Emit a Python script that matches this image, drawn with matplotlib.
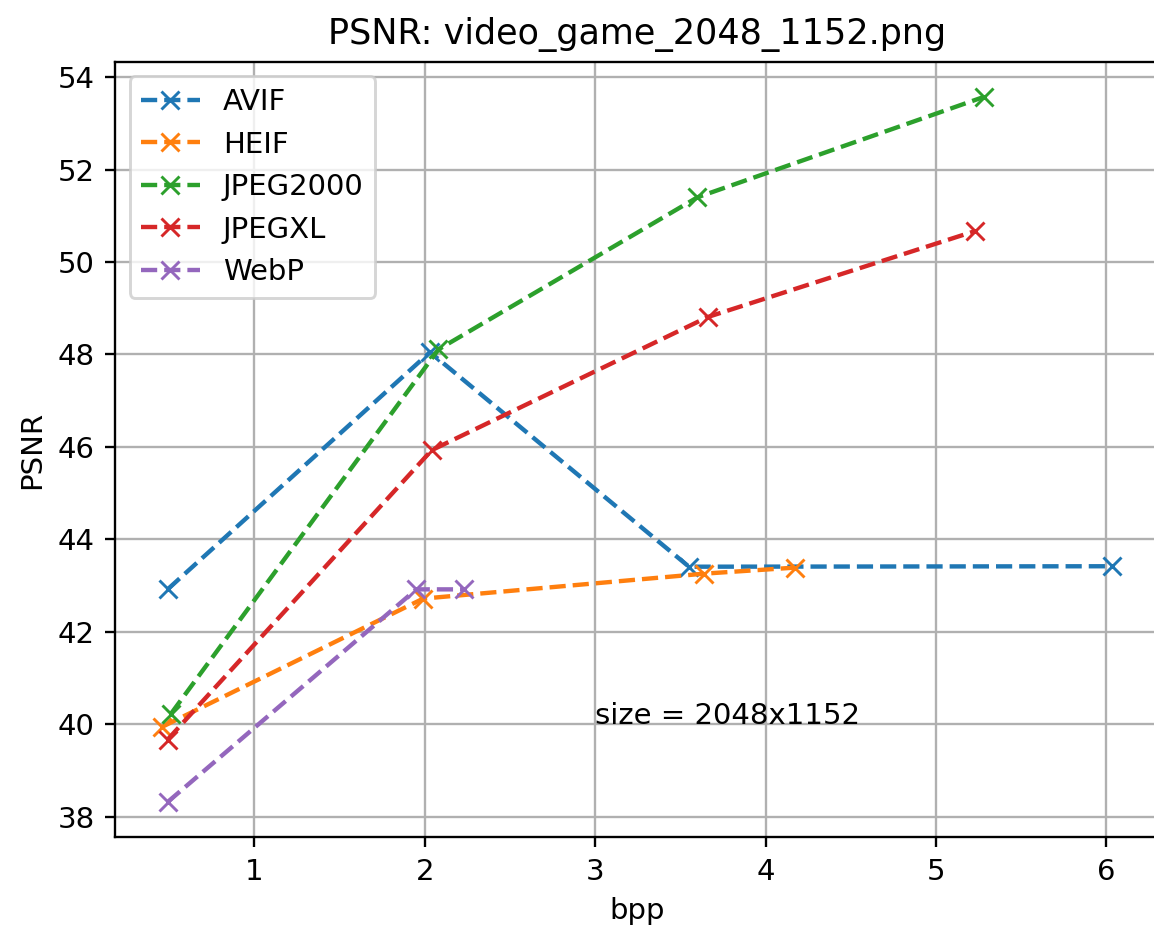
import numpy as np
import matplotlib
matplotlib.use("Agg")
import matplotlib.pyplot as plt

# bpp / PSNR
avif_bpp = [0.49, 2.03, 3.55, 6.03]
avif_psnr = [42.92, 48.05, 43.41, 43.42]

heif_bpp = [0.46, 1.99, 3.64, 4.17]
heif_psnr = [39.95, 42.72, 43.26, 43.39]

jp2_bpp = [0.51, 2.08, 3.60, 5.28]
jp2_psnr = [40.23, 48.11, 51.40, 53.57]

jxl_bpp = [0.49, 2.04, 3.66, 5.23]
jxl_psnr = [39.67, 45.93, 48.81, 50.67]

webp_bpp = [0.49, 1.95, 2.23]
webp_psnr = [38.32, 42.92, 42.92]

DPI = 210
W, H = 1154, 932
fig = plt.figure(figsize=(W / DPI, H / DPI), dpi=DPI)
# axes run slightly past the right edge, as in the reference crop
ax = fig.add_axes([115 / W, 1 - 837.3 / H, (1159 - 115) / W, (837.3 - 61.7) / H])

ax.plot(avif_bpp, avif_psnr, 'x--', label='AVIF')
ax.plot(heif_bpp, heif_psnr, 'x--', label='HEIF')
ax.plot(jp2_bpp, jp2_psnr, 'x--', label='JPEG2000')
ax.plot(jxl_bpp, jxl_psnr, 'x--', label='JPEGXL')
ax.plot(webp_bpp, webp_psnr, 'x--', label='WebP')

ax.text(3, 40, 'size = 2048x1152')
ax.set_title('PSNR: video_game_2048_1152.png')
ax.set_xlabel('bpp')
ax.set_ylabel('PSNR')
ax.legend(loc='upper left')
ax.grid()

fig.savefig('out.png', dpi=DPI)
